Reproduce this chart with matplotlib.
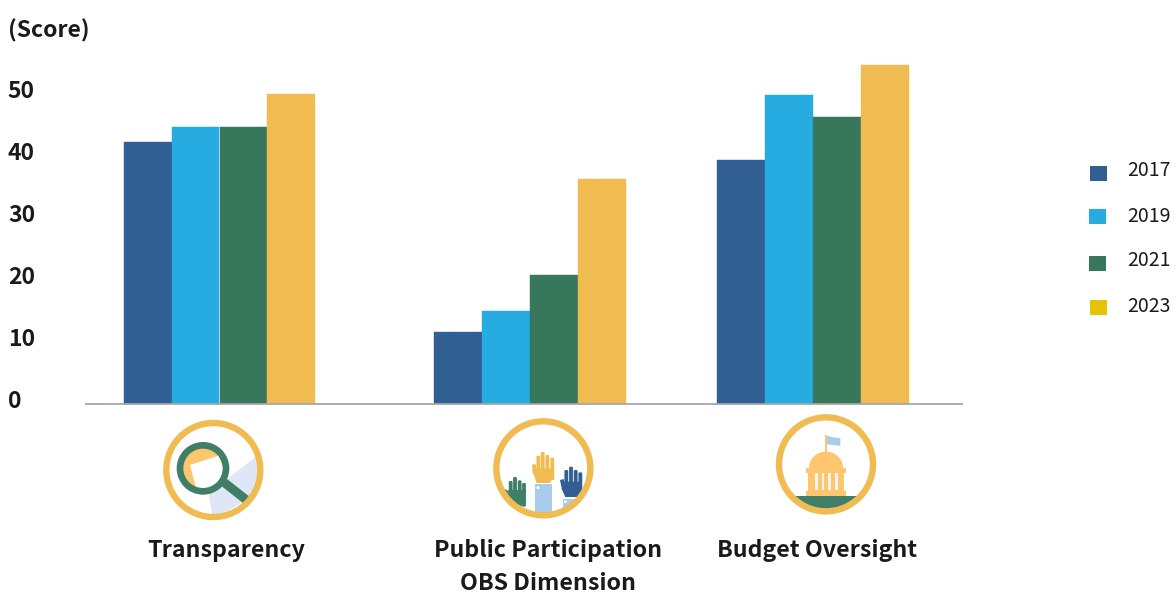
import matplotlib
matplotlib.use("Agg")
import matplotlib.pyplot as plt
from matplotlib.patches import Circle, Polygon, Rectangle, FancyBboxPatch, Ellipse
from matplotlib.transforms import ScaledTranslation

plt.rcParams['font.family'] = ['Noto Sans CJK SC', 'DejaVu Sans']

categories = ["Transparency", "Public Participation\nOBS Dimension", "Budget Oversight"]
years = ["2017", "2019", "2021", "2023"]
score_2017 = [42.3, 11.6, 39.4]
score_2019 = [44.7, 15.0, 49.8]
score_2021 = [44.7, 20.8, 46.3]
score_2023 = [50.0, 36.3, 54.7]
yticks = [0, 10, 20, 30, 40, 50]

W, H = 1176, 595
BLUE = "#315f93"
SKY = "#27ace2"
GREEN = "#37775b"
GOLD = "#f0bc52"
LEGEND_GOLD = "#e5c307"
TEAL = "#3f7f68"
ORANGE = "#fec76f"
PALE = "#a9cbec"

fig = plt.figure(figsize=(W / 100, H / 100), dpi=100)

# main axes, laid out in pixels so the group spacing stays uneven like the original
ax = fig.add_axes([85 / W, 1 - 404 / H, (963 - 85) / W, 354 / H])
ax.set_xlim(85, 963)
ax.set_ylim(0, 354 / 6.2)

group_x = [219.5, 530, 813]
bar_w = 47.8
series = [score_2017, score_2019, score_2021, score_2023]
colors = [BLUE, SKY, GREEN, GOLD]
for i, vals in enumerate(series):
    xs = [g + (i - 1.5) * bar_w for g in group_x]
    ax.bar(xs, vals, width=bar_w, color=colors[i], edgecolor=colors[i], linewidth=0.3)

for s in ["top", "right", "left"]:
    ax.spines[s].set_visible(False)
ax.spines["bottom"].set_color("#a6a6a6")
ax.spines["bottom"].set_linewidth(1.3)
ax.spines["bottom"].set_capstyle("butt")
ax.set_xticks([])
ax.set_yticks(yticks)
ax.set_yticklabels([str(t) for t in yticks], fontsize=16.5, fontweight="bold",
                   color="#1a1a1a", ha="left")
ax.tick_params(axis="y", length=0, pad=55.5)
shift = ScaledTranslation(0, 5 / 100, fig.dpi_scale_trans)
for lab in ax.get_yticklabels():
    lab.set_transform(lab.get_transform() + shift)

# overlay in pixel coordinates for the texts, legend and icons
ov = fig.add_axes([0, 0, 1, 1], zorder=5)
ov.set_xlim(0, W)
ov.set_ylim(H, 0)
ov.axis("off")
ov.patch.set_alpha(0)

ov.text(8, 31, "(Score)", fontsize=16.5, fontweight="bold", color="#1a1a1a", va="center")

label_x = [226, 548, 817]
for x, c in zip(label_x, categories):
    ov.text(x, 551, c.split("\n")[0], fontsize=16.7, fontweight="bold", color="#1a1a1a",
            ha="center", va="center")
    if "\n" in c:
        ov.text(x, 584, c.split("\n")[1], fontsize=16.7, fontweight="bold", color="#1a1a1a",
                ha="center", va="center")

swatch_x = [1090, 1089, 1089, 1090]
swatch_y = [166, 209, 256, 300]
legend_colors = [BLUE, SKY, GREEN, LEGEND_GOLD]
text_y = [170, 216, 261, 306]
for i, y in enumerate(years):
    ov.add_patch(Rectangle((swatch_x[i], swatch_y[i]), 17, 15, color=legend_colors[i], lw=0))
    ov.text(1127, text_y[i], y, fontsize=14, color="#1a1a1a", va="center")


def zoomed(x0, y0):
    # helper for icon geometry measured on a 3x crop
    return lambda zx, zy: (x0 + zx / 3, y0 + zy / 3)


def ring(cx, cy):
    ov.add_patch(Circle((cx, cy), 47, fill=False, ec=GOLD, lw=4.6, zorder=6))
    return Circle((cx, cy), 46, transform=ov.transData)


def finger_rect(p, x, top, bottom, w, color, clip=None):
    a = p(x - w / 2, top)
    b = p(x + w / 2, bottom)
    r = FancyBboxPatch((a[0], a[1]), b[0] - a[0], b[1] - a[1],
                       boxstyle="round,pad=0,rounding_size=1.3", fc=color, ec="none", zorder=4)
    ov.add_patch(r)
    if clip is not None:
        r.set_clip_path(clip)


def hand(p, fingers, thumb, palm, color, clip=None):
    for x, top in fingers:
        finger_rect(p, x, top, palm[1] + 20, 11.5, color, clip)
    poly = Polygon([p(*pt) for pt in palm[0]], fc=color, ec="none", zorder=4)
    ov.add_patch(poly)
    th = Polygon([p(*pt) for pt in thumb], fc=color, ec="none", zorder=4)
    ov.add_patch(th)
    if clip is not None:
        poly.set_clip_path(clip)
        th.set_clip_path(clip)


# Transparency icon
p = zoomed(150, 405)
cx, cy = p(190, 195)
clip = ring(cx, cy)
wedge = Polygon([p(175, 265), p(322, 152), p(345, 250), p(190, 345)], fc="#dfe7f7", ec="none", zorder=2)
ov.add_patch(wedge)
wedge.set_clip_path(clip)
lx, ly = p(159, 190)
ov.add_patch(Circle((lx, ly), 23.5, fc=ORANGE, ec="none", zorder=3))
paper = Polygon([p(120, 180), p(206, 152), p(240, 240), p(142, 262)], fc="white", ec="none", zorder=3)
ov.add_patch(paper)
paper.set_clip_path(Circle((lx, ly), 23.5, transform=ov.transData))
ov.add_patch(Circle((lx, ly), 23, fill=False, ec=TEAL, lw=4.8, zorder=4))
ov.plot(*zip(p(222, 232), p(292, 287)), color=TEAL, lw=6.5, solid_capstyle="butt", zorder=4)

# Public participation icon
p = zoomed(480, 405)
cx, cy = p(190, 190)
clip = ring(cx, cy)
hand(p, [(92, 228), (105, 216), (119, 226), (132, 234)],
     [(75, 252), (85, 258), (88, 290), (76, 270)],
     ([(85, 255), (137, 255), (137, 285), (118, 312), (100, 305), (85, 285)], 285), TEAL, clip)
hand(p, [(175, 152), (188, 141), (202, 150), (217, 158)],
     [(156, 178), (167, 178), (172, 215), (158, 205)],
     ([(166, 190), (222, 190), (220, 215), (210, 234), (170, 234), (160, 205)], 205), GOLD)
hand(p, [(259, 195), (273, 185), (287, 195), (301, 202)],
     [(240, 225), (251, 222), (256, 255), (244, 245)],
     ([(250, 230), (306, 230), (304, 255), (296, 276), (256, 276), (244, 250)], 250), BLUE)
sl = Rectangle(p(165, 238), 50 / 3, 85 / 3, fc=PALE, ec="none", zorder=3)
ov.add_patch(sl)
sl.set_clip_path(clip)
sr = Rectangle(p(248, 281), 52 / 3, 45 / 3, fc=PALE, ec="none", zorder=3)
ov.add_patch(sr)
sr.set_clip_path(clip)
ov.add_patch(Circle(p(174, 248), 1.5, fc="white", ec="none", zorder=5))
ov.add_patch(Circle(p(256, 290), 1.5, fc="white", ec="none", zorder=5))

# Budget oversight icon
p = zoomed(765, 405)
cx, cy = p(183, 178)
clip = ring(cx, cy)
ground = Rectangle(p(60, 272), 250 / 3, 70 / 3, fc=TEAL, ec="none", zorder=3)
ov.add_patch(ground)
ground.set_clip_path(clip)
ov.add_patch(Rectangle(p(181, 90), 1.5, 50 / 3, fc=ORANGE, ec="none", zorder=3))
ov.add_patch(Polygon([p(186, 93), p(205, 97), p(226, 100), p(226, 123), p(205, 120), p(186, 118)],
                     fc=PALE, ec="none", zorder=3))
ov.add_patch(Ellipse(p(183, 188), 102 / 3, 96 / 3, fc=ORANGE, ec="none", zorder=3))
ov.add_patch(Rectangle(p(124, 188), 120 / 3, 15 / 3, fc=ORANGE, ec="none", zorder=4))
ov.add_patch(Rectangle(p(130, 203), 108 / 3, 55 / 3, fc=ORANGE, ec="none", zorder=4))
for zx in [150, 170, 190, 210]:
    ov.add_patch(Rectangle(p(zx, 205), 8 / 3, 50 / 3, fc="#f4f4f2", ec="none", zorder=5))
ov.add_patch(Rectangle(p(124, 258), 120 / 3, 14 / 3, fc=ORANGE, ec="none", zorder=4))

fig.savefig("out.png", dpi=100)
